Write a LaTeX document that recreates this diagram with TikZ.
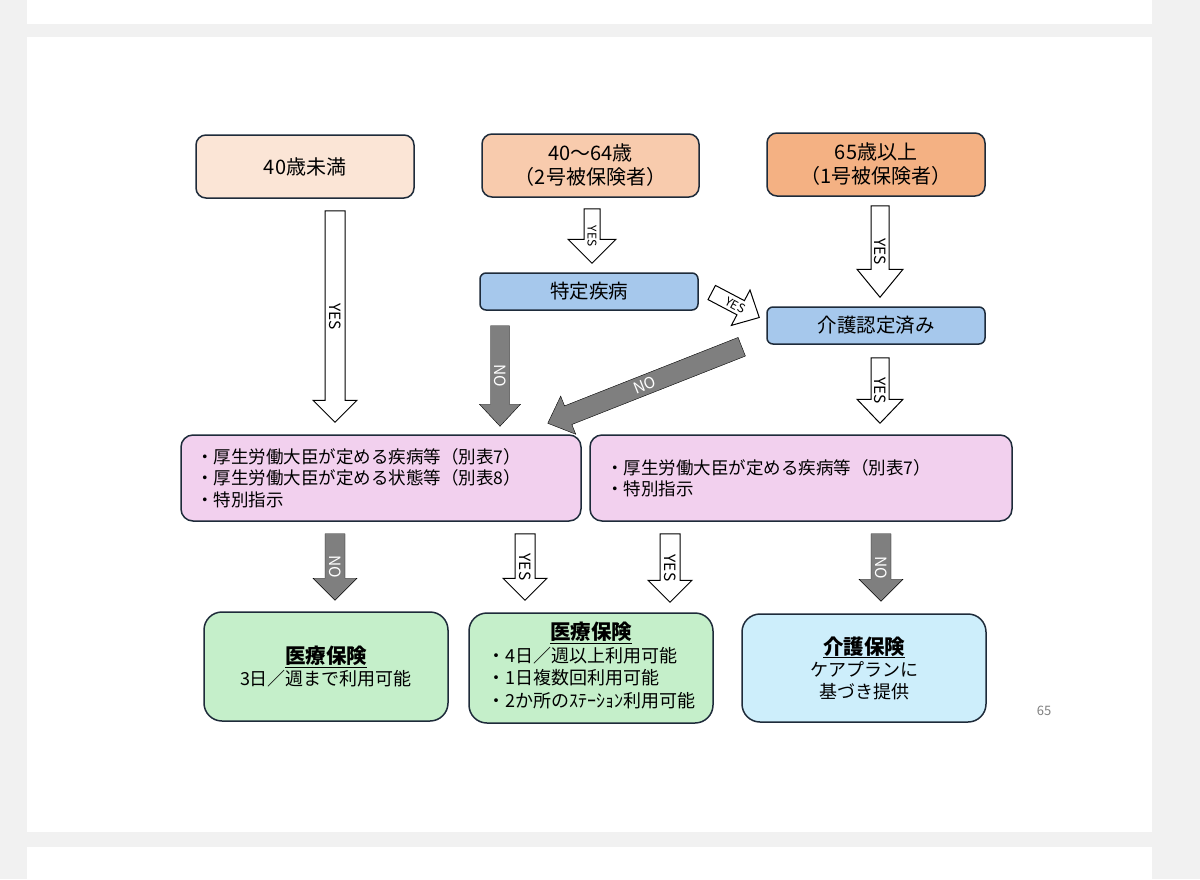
\documentclass[tikz,border=0pt]{standalone}
\usepackage{fontspec}
\setmainfont{Noto Sans CJK JP}
\usetikzlibrary{calc,positioning}

\definecolor{pagebg}{HTML}{F1F1F1}
\definecolor{edge}{HTML}{1E2B3A}
\definecolor{peachA}{HTML}{FBE5D6}
\definecolor{peachB}{HTML}{F8CBAD}
\definecolor{peachC}{HTML}{F4B183}
\definecolor{skyblue}{HTML}{A6C8EC}
\definecolor{lilac}{HTML}{F2D0EE}
\definecolor{mint}{HTML}{C5EFCA}
\definecolor{aqua}{HTML}{CDEEFB}
\definecolor{arrowgray}{HTML}{7F7F7F}

\newcommand{\boxhead}[1]{{\fontsize{20.5}{22}\selectfont\bfseries\underline{#1}}}

\tikzset{
	shaft half/.store in=\shafthalf, shaft half=10pt,
	head half/.store in=\headhalf, head half=22pt,
	head len/.store in=\headlen, head len=22pt,
	label size/.store in=\labelsize, label size=15.5,
	box/.style={draw=edge, line width=1.5pt, rounded corners=10pt, align=center,
		font=\fontsize{18}{24}\selectfont, inner sep=0pt},
	agebox/.style={box, minimum width=218pt, minimum height=63pt, font=\fontsize{20}{24}\selectfont},
	checkbox/.style={box, fill=skyblue, rounded corners=6pt, minimum width=218pt, minimum height=37pt,
		font=\fontsize{19.5}{24}\selectfont},
	yesarrow/.style={draw=black, fill=white, line width=1pt, line join=miter},
	noarrow/.style={fill=arrowgray},
	yeslabel/.style={text=black, font=\fontsize{\labelsize}{\labelsize}\selectfont, inner sep=0pt},
	nolabel/.style={text=white, font=\fontsize{\labelsize}{\labelsize}\selectfont, inner sep=0pt},
}

% block arrow: [geometry]{yes/no}{from}{to}{label}
\newcommand{\flowarrow}[5][]{%
	\begin{scope}[#1]
		\coordinate (fa) at (#3);
		\coordinate (fb) at (#4);
		\coordinate (fn) at ($(fb)!\headlen!(fa)$);
		\draw[#2arrow] ($(fa)!\shafthalf!90:(fb)$) -- ($(fn)!\shafthalf!-90:(fa)$)
			-- ($(fn)!\headhalf!-90:(fa)$) -- (fb) -- ($(fn)!\headhalf!90:(fa)$)
			-- ($(fn)!\shafthalf!90:(fa)$) -- ($(fa)!\shafthalf!-90:(fb)$) -- cycle;
		\path (fa) -- (fb) node[midway, sloped, #2label] {#5};
	\end{scope}}

\begin{document}
\begin{tikzpicture}[x=1pt, y=-1pt]
	\useasboundingbox (0,0) rectangle (1200,879);
	\fill[pagebg] (0,0) rectangle (1200,879);
	\fill[white] (27,0) rectangle (1152,24);
	\fill[white] (27,37) rectangle (1152,832);
	\fill[white] (27,847) rectangle (1152,879);

	\node[agebox, fill=peachA] (under40) at (305,166.5) {40歳未満};
	\node[agebox, fill=peachB, minimum width=217pt] (age4064) at (590.5,165.5) {40〜64歳\\（2号被保険者）};
	\node[agebox, fill=peachC] (age65) at (876,164.5) {65歳以上\\（1号被保険者）};

	\node[checkbox] (tokutei) at (589,291.5) {特定疾病};
	\node[checkbox] (kaigo) at (876,325.5) {介護認定済み};

	\node[box, fill=lilac, rounded corners=12pt, align=left, text width=370pt, inner xsep=15pt, minimum height=86pt,
		font=\fontsize{17.5}{21.5}\selectfont] (pinkL) at (381,478)
		{・厚生労働大臣が定める疾病等（別表7）\\・厚生労働大臣が定める状態等（別表8）\\・特別指示};
	\node[box, fill=lilac, rounded corners=12pt, align=left, text width=390pt, inner xsep=16pt, minimum height=86pt,
		font=\fontsize{17.5}{21.5}\selectfont] (pinkR) at (801,478)
		{・厚生労働大臣が定める疾病等（別表7）\\・特別指示};

	\node[box, fill=mint, rounded corners=18pt, minimum width=244pt, minimum height=109pt,
		font=\fontsize{18}{21}\selectfont] (green1) at (326,666.5) {\boxhead{医療保険}\\3日／週まで利用可能};
	\node[box, fill=mint, rounded corners=18pt, minimum width=244pt, minimum height=110pt,
		font=\fontsize{18}{22.5}\selectfont] (green2) at (591,668)
		{\begin{tabular}{@{}l@{}}\multicolumn{1}{@{}c@{}}{\boxhead{医療保険}}\\・4日／週以上利用可能\\・1日複数回利用可能\\・2か所のｽﾃｰｼｮﾝ利用可能\end{tabular}};
	\node[box, fill=aqua, rounded corners=18pt, minimum width=244pt, minimum height=108pt,
		font=\fontsize{18}{22}\selectfont] (blue3) at (864,668) {\boxhead{介護保険}\\ケアプランに\\基づき提供};

	\node[text=arrowgray, font=\fontsize{13}{13}\selectfont] (pgno) at (1044,711) {65};

	\flowarrow{yes}{[xshift=30pt,yshift=-12pt]under40.south}{[xshift=-46pt,yshift=12pt]pinkL.north}{YES}
	\flowarrow[shaft half=8pt, head half=24pt, head len=24pt, label size=12]{yes}{[xshift=1.5pt,yshift=-11pt]age4064.south}{[xshift=3pt,yshift=9pt]tokutei.north}{YES}
	\flowarrow[shaft half=9pt, head half=23pt, head len=28pt]{yes}{[xshift=4pt,yshift=-9pt]age65.south}{[xshift=4pt,yshift=9pt]kaigo.north}{YES}
	\flowarrow[shaft half=8pt, head half=20pt, head len=21pt, label size=12]{yes}{[xshift=13pt,yshift=-1pt]tokutei.east}{[xshift=-7pt,yshift=8pt]kaigo.west}{YES}
	\flowarrow[shaft half=9.5pt, head half=20.5pt]{no}{[xshift=-89pt,yshift=-15pt]tokutei.south}{[xshift=119pt,yshift=8pt]pinkL.north}{NO}
	\flowarrow[head half=20.5pt]{no}{[xshift=-24.5pt,yshift=-2pt]kaigo.south west}{[xshift=-34pt,yshift=11pt]pinkL.north east}{NO}
	\flowarrow[shaft half=9pt, head half=23pt, head len=24pt]{yes}{[xshift=4pt,yshift=-13pt]kaigo.south}{[xshift=79pt,yshift=11pt]pinkR.north}{YES}

	\flowarrow{no}{[xshift=-46pt,yshift=-12pt]pinkL.south}{[xshift=9pt,yshift=11pt]green1.north}{NO}
	\flowarrow{yes}{[xshift=144pt,yshift=-12pt]pinkL.south}{[xshift=-66pt,yshift=12pt]green2.north}{YES}
	\flowarrow{yes}{[xshift=-131pt,yshift=-12pt]pinkR.south}{[xshift=79pt,yshift=10pt]green2.north}{YES}
	\flowarrow{no}{[xshift=80pt,yshift=-12pt]pinkR.south}{[xshift=17pt,yshift=12pt]blue3.north}{NO}
\end{tikzpicture}
\end{document}
